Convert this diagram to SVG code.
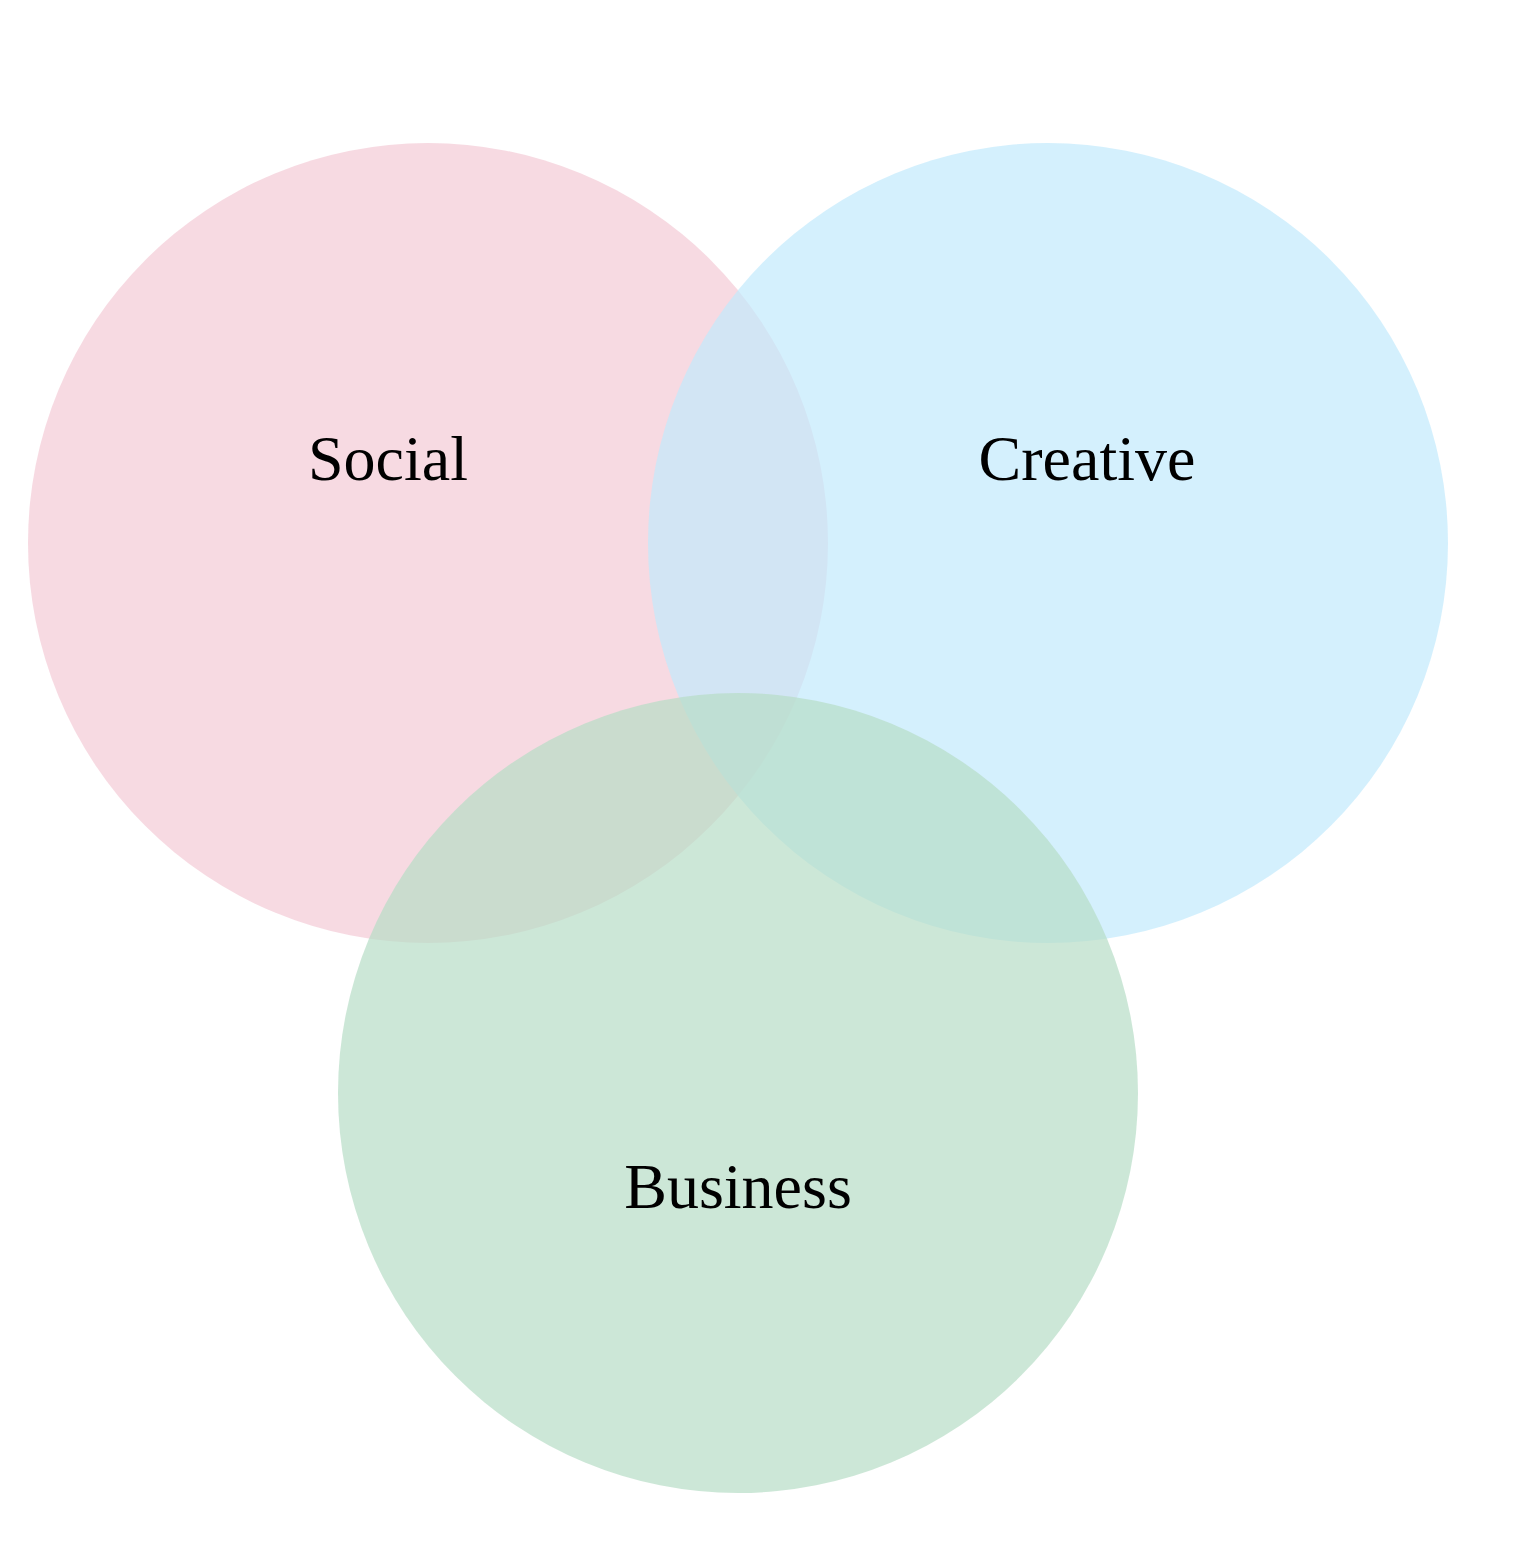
<svg xmlns="http://www.w3.org/2000/svg" width="1520" height="1542" viewBox="0 0 1520 1542">
<style>
.c{fill-opacity:0.7;stroke:none}
.t{font-family:"Liberation Serif","Times New Roman",serif;font-size:64px;fill:#000;text-anchor:middle}
</style>
<rect width="1520" height="1542" fill="#fff"/>
<g id="connectors"/>
<g id="social"><circle class="c" cx="428" cy="543" r="400" fill="#F4CAD6"/></g>
<g id="creative"><circle class="c" cx="1048" cy="543" r="400" fill="#C2EAFC"/></g>
<g id="business"><circle class="c" cx="738" cy="1093" r="400" fill="#B6DDC6"/></g>
<g id="labels">
<text class="t" x="388" y="480">Social</text>
<text class="t" x="1087" y="480">Creative</text>
<text class="t" x="738" y="1208">Business</text>
</g>
</svg>
